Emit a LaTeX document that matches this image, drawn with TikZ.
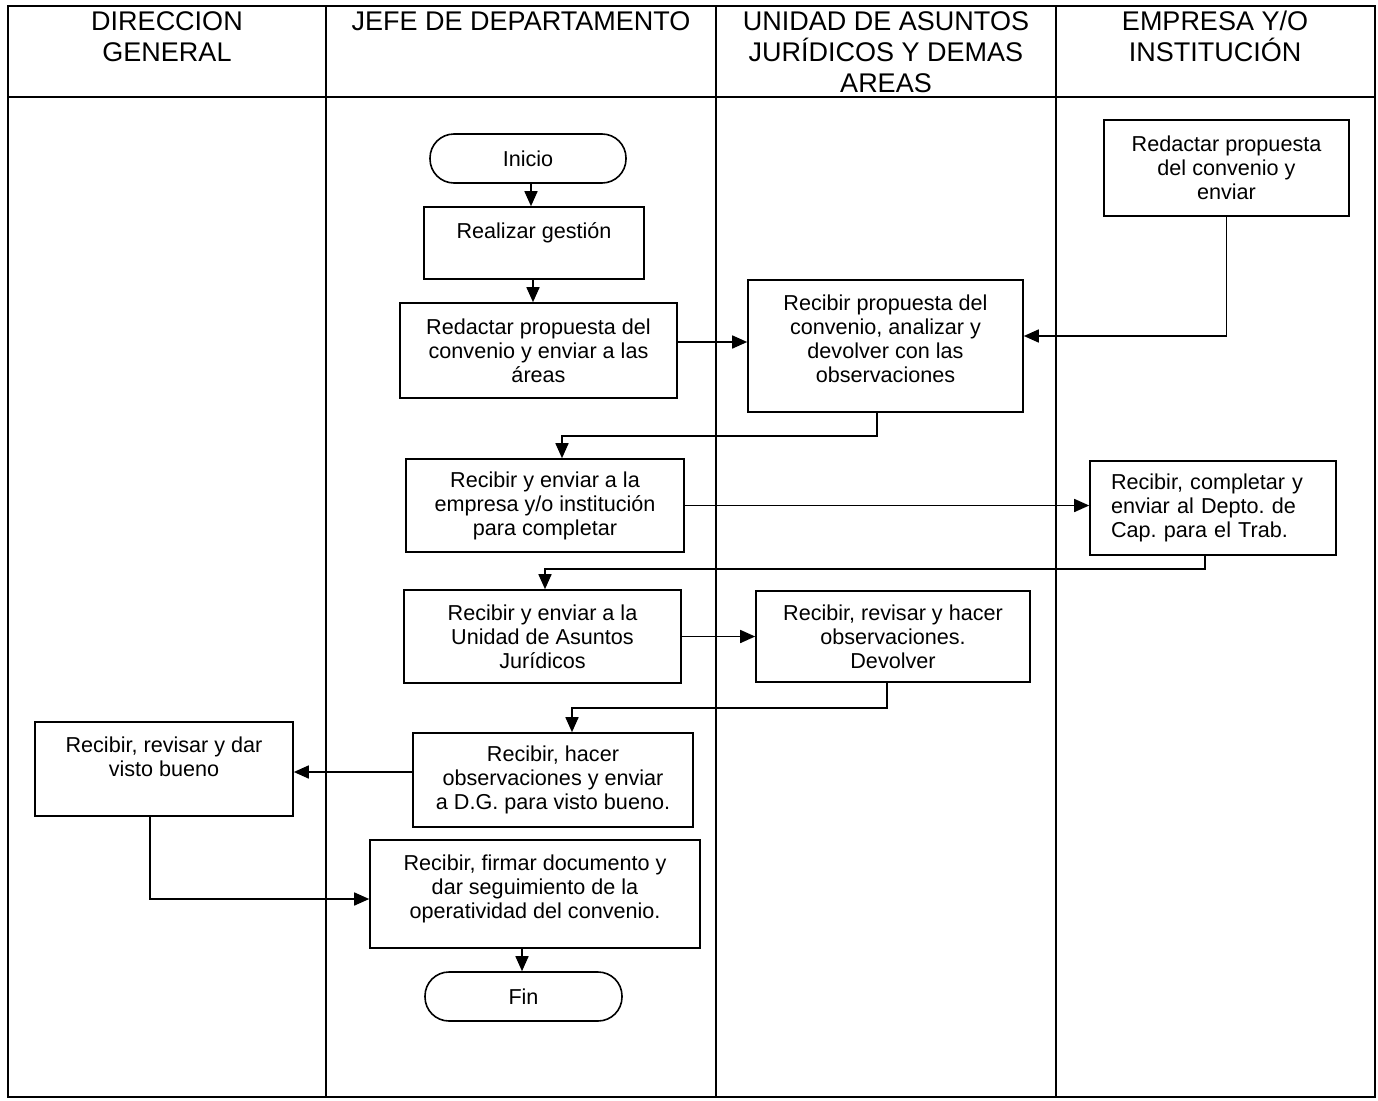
\documentclass[tikz,border=0pt]{standalone}
\usepackage{fontspec}
\setmainfont{Liberation Sans}
\usetikzlibrary{arrows.meta}
\newcommand\bxfont{\fontsize{21.6}{24}\selectfont\frenchspacing}
\newcommand\hdfont{\fontsize{27}{31}\selectfont}
\tikzset{
  frameline/.style={line width=1.6pt},
  box/.style={draw, line width=1.6pt, align=center, font=\bxfont, inner sep=0pt},
  term/.style={box, rounded corners=24pt},
  lanehead/.style={anchor=north, align=center, font=\hdfont, inner sep=0pt},
  flow/.style={line width=1.6pt, -{Triangle[length=15pt,width=13pt]}}
}
\begin{document}
\begin{tikzpicture}[x=1pt,y=-1pt]
\useasboundingbox (0,0) rectangle (1378,1100);

% swimlane frame
\draw[frameline] (8,6) rectangle (1375,1097);
\draw[frameline] (8,97) -- (1375,97);
\draw[frameline] (326,6) -- (326,1097);
\draw[frameline] (716,6) -- (716,1097);
\draw[frameline] (1056,6) -- (1056,1097);

% lane headings
\node[lanehead] (hdg) at (167,11) {DIRECCION\\GENERAL};
\node[lanehead] (hjd) at (521,11) {JEFE DE DEPARTAMENTO};
\node[lanehead] (huj) at (886,11) {UNIDAD DE ASUNTOS\\JURÍDICOS Y DEMAS\\AREAS};
\node[lanehead] (hem) at (1215,11) {EMPRESA Y/O\\INSTITUCIÓN};

% process steps
\node[term, minimum width=196pt, minimum height=49pt] (ini) at (528,158.5) {Inicio};
\node[box, minimum width=220pt, minimum height=72pt] (gest) at (534,243) {Realizar gestión\\\mbox{}};
\node[box, minimum width=277pt, minimum height=95pt] (red) at (538.5,350.5) {Redactar propuesta del\\convenio y enviar a las\\áreas};
\node[box, minimum width=275pt, minimum height=132pt, text depth=14pt] (recp) at (885.5,346) {Recibir propuesta del\\convenio, analizar y\\devolver con las\\observaciones};
\node[box, minimum width=245pt, minimum height=96pt] (emp) at (1226.5,168) {Redactar propuesta\\del convenio y\\enviar};
\node[box, minimum width=278pt, minimum height=93pt] (rye) at (545,505.5) {Recibir y enviar a la\\empresa y/o institución\\para completar};
\node[box, minimum width=246pt, minimum height=94pt, align=left, text width=204pt] (comp) at (1213,508) {Recibir, completar y\\enviar al Depto. de\\Cap. para el Trab.};
\node[box, minimum width=277pt, minimum height=93pt] (ryu) at (542.5,636.5) {Recibir y enviar a la\\Unidad de Asuntos\\Jurídicos};
\node[box, minimum width=274pt, minimum height=91pt] (rev) at (893,636.5) {Recibir, revisar y hacer\\observaciones.\\Devolver};
\node[box, minimum width=258pt, minimum height=94pt] (dg) at (164,769) {Recibir, revisar y dar\\visto bueno\\\mbox{}};
\node[box, minimum width=280pt, minimum height=94pt] (hac) at (553,780) {Recibir, hacer\\observaciones y enviar\\a D.G. para visto bueno.};
\node[box, minimum width=330pt, minimum height=108pt] (fir) at (535,894) {Recibir, firmar documento y\\dar seguimiento de la\\operatividad del convenio.\\[-10pt]\mbox{}};
\node[term, minimum width=197pt, minimum height=49pt] (fin) at (523.5,996.5) {Fin};

% connectors
\draw[flow] ([xshift=3pt]ini.south) -- ([xshift=3pt]ini.south |- gest.north);
\draw[flow] ([xshift=-1pt]gest.south) -- ([xshift=-1pt]gest.south |- red.north);
\draw[flow] ([yshift=8.5pt]red.east) -- ([yshift=8.5pt]red.east -| recp.west);
\draw[flow] (emp.south) |- ([yshift=10pt]recp.east);
\draw[flow] ([xshift=-8.5pt]recp.south) -- ++(0,23) -| ([xshift=17pt]rye.north);
\draw[flow] (rye.east) -- (rye.east -| comp.west);
\draw[flow] ([xshift=-8pt]comp.south) -- ++(0,13) -| ([xshift=2.5pt]ryu.north);
\draw[flow] (ryu.east) -- (ryu.east -| rev.west);
\draw[flow] ([xshift=-6pt]rev.south) -- ++(0,25) -| ([xshift=19pt]hac.north);
\draw[flow] ([yshift=8pt]hac.west) -- ([yshift=8pt]hac.west -| dg.east);
\draw[flow] ([xshift=-14pt]dg.south) |- ([yshift=-5pt]fir.west);
\draw[flow] ([xshift=-13pt]fir.south) -- ([xshift=-13pt]fir.south |- fin.north);
\end{tikzpicture}
\end{document}
